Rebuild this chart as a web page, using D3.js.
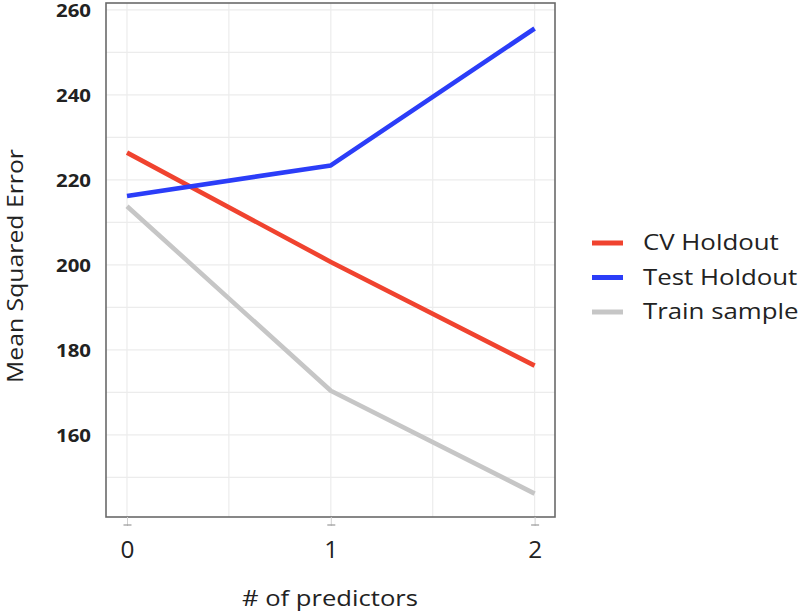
<!DOCTYPE html>
<html>
<head>
<meta charset="utf-8">
<script src="https://cdn.jsdelivr.net/npm/d3@7"></script>
<style>
  body { margin: 0; background: #fff; }
  text { font-family: "Open Sans", "Noto Sans", sans-serif; fill: #222; }
</style>
</head>
<body>
<div id="chart"></div>
<script>
var predictors = [0, 1, 2];
var cvHoldout = [226.4, 200.7, 176.3];
var testHoldout = [216.2, 223.4, 255.6];
var trainSample = [213.8, 170.4, 146.2];
var yTicks = [160, 180, 200, 220, 240, 260];
var seriesNames = ["CV Holdout", "Test Holdout", "Train sample"];
var seriesColors = ["#f0432f", "#2b3df8", "#c6c6c6"];

var width = 800, height = 616;
var pLeft = 106, pRight = 555, pTop = 3, pBottom = 517;

var svg = d3.select("#chart").append("svg")
    .attr("width", width)
    .attr("height", height);

var x = d3.scaleLinear()
    .domain([-0.103, 2.1])
    .range([pLeft, pRight]);

var y = d3.scaleLinear()
    .domain([140.7, 261.6])
    .range([pBottom, pTop]);

// widen text horizontally around its own x anchor
function stretch(sel, sx) {
    sel.each(function() {
        var t = d3.select(this);
        var x0 = +t.attr("x") || 0;
        t.attr("transform", "translate(" + x0 + ",0) scale(" + sx + ",1) translate(" + (-x0) + ",0)");
    });
}

// grid: major and minor
var minorY = d3.range(150, 261, 10);
svg.append("g").selectAll("line")
    .data(minorY)
    .enter().append("line")
    .attr("x1", pLeft).attr("x2", pRight)
    .attr("y1", d => y(d)).attr("y2", d => y(d))
    .attr("stroke", "#ececec")
    .attr("stroke-width", 1.2);

var minorX = [0, 0.5, 1, 1.5, 2];
svg.append("g").selectAll("line")
    .data(minorX)
    .enter().append("line")
    .attr("y1", pTop).attr("y2", pBottom)
    .attr("x1", d => x(d)).attr("x2", d => x(d))
    .attr("stroke", "#ececec")
    .attr("stroke-width", 1.2);

// panel border
svg.append("rect")
    .attr("x", pLeft).attr("y", pTop)
    .attr("width", pRight - pLeft).attr("height", pBottom - pTop)
    .attr("fill", "none")
    .attr("stroke", "#6a6a6a")
    .attr("stroke-width", 1.6);

// x axis
var xAxis = svg.append("g")
    .attr("transform", "translate(0," + pBottom + ")")
    .call(d3.axisBottom(x).tickValues(predictors).tickSize(9).tickPadding(16).tickFormat(d3.format("d")));
xAxis.select(".domain").remove();
xAxis.selectAll(".tick line").attr("stroke", "#d0d0d0");
xAxis.selectAll(".tick").append("line")
    .attr("x1", -4).attr("x2", 4)
    .attr("y1", 8).attr("y2", 8)
    .attr("stroke", "#999")
    .attr("stroke-width", 1.2);
xAxis.selectAll("text")
    .style("font-size", "23px")
    .style("font-family", "'Open Sans', sans-serif")
    .attr("fill", "#222");
stretch(xAxis.selectAll("text"), 1.06);

// y axis
var yAxis = svg.append("g")
    .attr("transform", "translate(" + pLeft + ",1)")
    .call(d3.axisLeft(y).tickValues(yTicks).tickSize(0).tickPadding(15));
yAxis.select(".domain").remove();
yAxis.selectAll("text")
    .style("font-size", "17px")
    .style("font-weight", "bold")
    .style("font-family", "'Open Sans', sans-serif")
    .attr("fill", "#222");
stretch(yAxis.selectAll("text"), 1.2);

// lines
var line = d3.line()
    .x((d, i) => x(predictors[i]))
    .y(d => y(d));

var series = [cvHoldout, testHoldout, trainSample];
// draw train first so others sit on top
[2, 0, 1].forEach(function(k) {
    svg.append("path")
        .datum(series[k])
        .attr("d", line)
        .attr("fill", "none")
        .attr("stroke", seriesColors[k])
        .attr("stroke-width", 4.6)
        .attr("stroke-linejoin", "round");
});

// axis titles
var xTitle = svg.append("text")
    .attr("x", 330)
    .attr("y", 606)
    .attr("text-anchor", "middle")
    .style("font-size", "21px")
    .text("# of predictors");
stretch(xTitle, 1.22);

svg.append("text")
    .attr("transform", "translate(23,266) rotate(-90) scale(1.18,1)")
    .attr("text-anchor", "middle")
    .style("font-size", "21px")
    .text("Mean Squared Error");

// legend
var legend = svg.append("g").attr("transform", "translate(592,243)");
seriesNames.forEach(function(name, i) {
    var g = legend.append("g").attr("transform", "translate(0," + (i * 34.5) + ")");
    g.append("line")
        .attr("x1", 0).attr("x2", 31)
        .attr("y1", 0).attr("y2", 0)
        .attr("stroke", seriesColors[i])
        .attr("stroke-width", 5);
    var t = g.append("text")
        .attr("x", 51)
        .attr("y", 7)
        .style("font-size", "21px")
        .text(name);
    stretch(t, 1.23);
});
</script>
</body>
</html>
